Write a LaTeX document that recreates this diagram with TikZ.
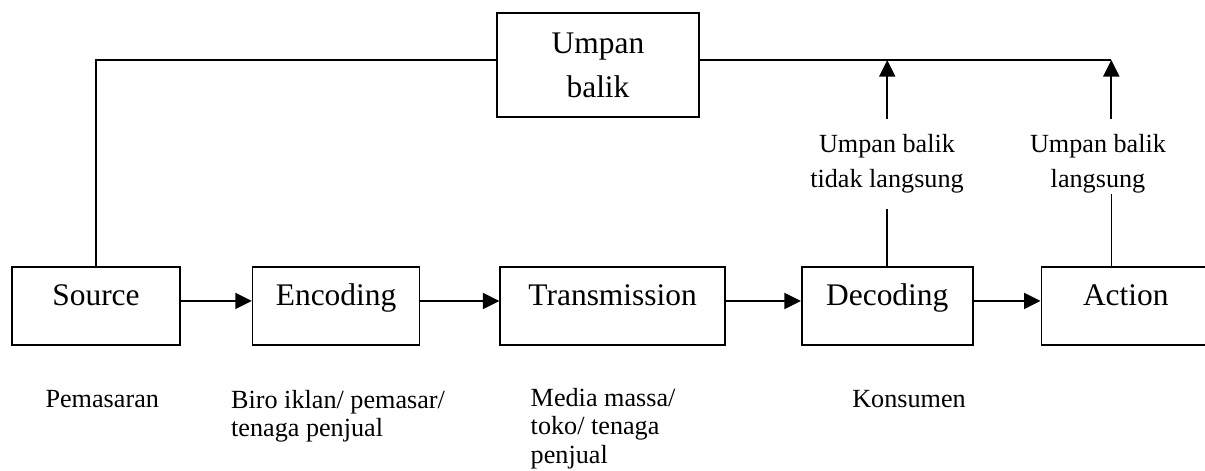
\documentclass[tikz,border=0pt]{standalone}
\usepackage{fontspec}
\setmainfont{Liberation Serif}
\usepackage{tikz}
\usetikzlibrary{arrows.meta,positioning}

\begin{document}
\begin{tikzpicture}[
  node distance=1.4cm,
  block/.style={draw, line width=0.9pt, minimum height=1.56cm, text height=0.76cm,
    text depth=0.8cm, inner ysep=0pt, font=\fontsize{17.9}{21}\selectfont},
  fbbox/.style={draw, line width=0.9pt, minimum width=4.04cm, minimum height=2.08cm,
    align=center, font=\fontsize{17.9}{25}\selectfont},
  fblabel/.style={align=center, inner xsep=0pt, inner ysep=0.3cm,
    font=\fontsize{14.9}{19.8}\selectfont},
  note/.style={align=left, inner sep=0pt, font=\fontsize{14.9}{16.2}\selectfont},
  link/.style={line width=0.9pt},
  arrow/.style={-{Triangle[length=0.33cm, width=0.32cm]}, line width=1pt},
]
  \useasboundingbox (0,0) rectangle (24.1,-9.4);

  % Main chain
  \node[block, minimum width=3.36cm] (src) at (1.92,-6.12) {Source};
  \node[block, minimum width=3.34cm, right=1.42cm of src] (enc) {Encoding};
  \node[block, minimum width=4.5cm, right=1.58cm of enc] (trans) {Transmission};
  \node[block, minimum width=3.42cm, right=1.5cm of trans] (dec) {Decoding};
  \node[block, minimum width=3.38cm, right=1.34cm of dec] (act) {Action};

  \draw[arrow] (src.mid east) -- (enc.mid west);
  \draw[arrow] (enc.mid east) -- (trans.mid west);
  \draw[arrow] (trans.mid east) -- (dec.mid west);
  \draw[arrow] (dec.mid east) -- (act.mid west);

  % Who does what
  \node[note, below right=0.88cm and 0.68cm of src.south west] (pem) {Pemasaran};
  \node[note, below right=0.88cm and -0.42cm of enc.south west] (biro)
    {Biro iklan/ pemasar/\\tenaga penjual};
  \node[note, below right=0.84cm and 0.62cm of trans.south west] (media)
    {Media massa/\\toko/ tenaga\\penjual};
  \node[note, below right=0.88cm and 1.02cm of dec.south west] (kons) {Konsumen};

  % Feedback box and loop
  \node[fbbox] (ub) at (11.96,-1.3) {Umpan\\balik};
  \coordinate (fbin) at ([yshift=0.1cm]ub.west);
  \coordinate (fbout) at ([yshift=0.1cm]ub.east);
  \coordinate (dtap) at (dec.north);
  \coordinate (atap) at ([xshift=-0.29cm]act.north);

  \draw[link] (src.north) |- (fbin);
  \draw[link] (fbout) -- (atap |- fbout);

  % Feedback labels
  \node[fblabel] (dlab) at (17.74,-3.28) {Umpan balik\\tidak langsung};
  \node[fblabel] (alab) at (21.96,-3.28) {Umpan balik\\langsung};

  \draw[link] (dtap) -- (dtap |- dlab.south);
  \draw[arrow] (dtap |- dlab.north) -- (dtap |- fbout);
  \draw[link] (atap) -- ([yshift=0.3cm]atap |- alab.south);
  \draw[arrow] (atap |- alab.north) -- (atap |- fbout);
\end{tikzpicture}
\end{document}
